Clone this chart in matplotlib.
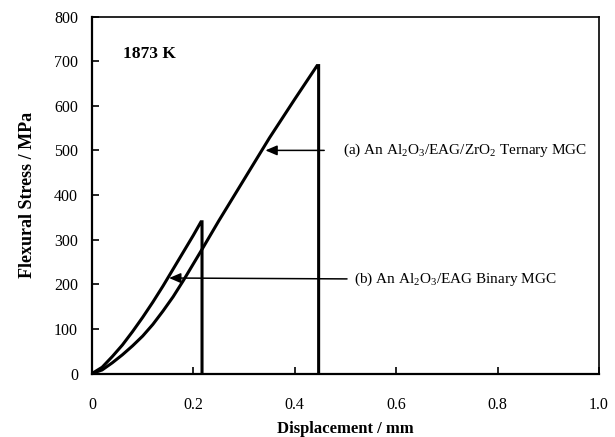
import matplotlib
matplotlib.use("Agg")
import matplotlib.pyplot as plt

# curve (a) Al2O3/EAG/ZrO2 ternary
disp_a = [0, 0.02, 0.04, 0.06, 0.08, 0.10, 0.12, 0.14, 0.16, 0.18, 0.20,
          0.22, 0.25, 0.30, 0.35, 0.40, 0.444, 0.447, 0.447]
stress_a = [0, 8, 24, 42, 62, 84, 110, 140, 172, 208, 246,
            284, 342, 435, 528, 615, 690, 690, 0]

# curve (b) Al2O3/EAG binary
disp_b = [0, 0.02, 0.04, 0.06, 0.08, 0.10, 0.12, 0.14, 0.16, 0.18, 0.20,
          0.215, 0.217, 0.217]
stress_b = [0, 14, 38, 64, 94, 126, 160, 196, 234, 272, 310, 340, 340, 0]

x_ticks = [0, 0.2, 0.4, 0.6, 0.8, 1.0]
x_ticklabels = ["0", "0.2", "0.4", "0.6", "0.8", "1.0"]
y_ticks = [0, 100, 200, 300, 400, 500, 600, 700, 800]

plt.rcParams['font.family'] = ['Liberation Serif', 'DejaVu Serif']
plt.rcParams['mathtext.fontset'] = 'custom'
plt.rcParams['mathtext.rm'] = 'Liberation Serif'

fig = plt.figure(figsize=(6.15, 4.37), dpi=100)
ax = fig.add_axes([0.1496, 0.1453, 0.8244, 0.8169])

ax.plot(disp_a, stress_a, color="black", linewidth=2.2, solid_joinstyle="miter")
ax.plot(disp_b, stress_b, color="black", linewidth=2.2, solid_joinstyle="miter")

arrow = dict(arrowstyle="-|>,head_length=0.7,head_width=0.3",
             color="black", linewidth=1.1, shrinkA=0, shrinkB=0)
ax.annotate("", xy=(0.342, 500), xytext=(0.458, 500), arrowprops=arrow)
ax.annotate("", xy=(0.152, 214), xytext=(0.503, 212), arrowprops=arrow)

ax.text(0.495, 500, r"(a) An Al$_2$O$_3$/EAG/ZrO$_2$ Ternary MGC",
        fontsize=11, va="center", ha="left")
ax.text(0.516, 212, r"(b) An Al$_2$O$_3$/EAG Binary MGC",
        fontsize=11, va="center", ha="left")
ax.text(0.062, 716, "1873 K", fontsize=12.5, fontweight="bold",
        va="center", ha="left")

ax.set_xlim(0, 1.0)
ax.set_ylim(0, 800)
ax.set_xticks(x_ticks)
ax.set_xticklabels(x_ticklabels)
ax.set_yticks(y_ticks)
ax.tick_params(direction="in", length=5, width=1.2, labelsize=11.5,
               top=False, right=False)
ax.tick_params(axis="x", pad=17)
ax.tick_params(axis="y", pad=10)

for side in ["left", "bottom"]:
    ax.spines[side].set_linewidth(1.6)
for side in ["top", "right"]:
    ax.spines[side].set_linewidth(1.2)

ax.set_xlabel("Displacement / mm", fontsize=12, fontweight="bold")
ax.xaxis.set_label_coords(0.5, -0.133)
ax.set_ylabel("Flexural Stress / MPa", fontsize=13, fontweight="bold", labelpad=13)

fig.savefig("out.png", dpi=100)
